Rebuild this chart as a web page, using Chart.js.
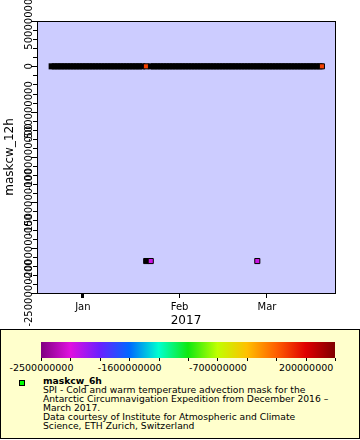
<!DOCTYPE html>
<html><head><meta charset="utf-8">
<script src="https://cdn.jsdelivr.net/npm/chart.js@4.4.1/dist/chart.umd.min.js"></script>
<style>
html,body{margin:0;padding:0;background:#fff;width:360px;height:440px;overflow:hidden;font-family:"DejaVu Sans",sans-serif;}
#wrap{position:absolute;left:0;top:0;width:360px;height:329px;}
#legend{position:absolute;left:0;top:329px;width:360px;height:110px;box-sizing:border-box;border:1px solid #000;background:#ffffcc;color:#000;}
#cbar{position:absolute;left:40px;top:12px;width:294px;height:16px;}
.ctick{position:absolute;top:28px;width:1px;height:3px;background:#000;}
.clab{position:absolute;top:32px;font-size:9.5px;line-height:11px;transform:translateX(-50%);white-space:nowrap;}
#mark{position:absolute;left:18px;top:50px;width:6px;height:6px;box-sizing:border-box;border:1px solid #000;background:#00ff00;}
#ltext{position:absolute;left:42px;top:47px;font-size:9.2px;line-height:8.9px;white-space:nowrap;}
#ltext b{font-weight:bold;}
</style>
</head><body>
<div id="wrap"><canvas id="c" width="360" height="329"></canvas></div>
<div id="legend">
  <div id="cbar"></div>
  <div id="mark"></div>
  <div id="ltext"><b>maskcw_6h</b><br>SPI - Cold and warm temperature advection mask for the<br>Antarctic Circumnavigation Expedition from December 2016 –<br>March 2017.<br>Data courtesy of Institute for Atmospheric and Climate<br>Science, ETH Zurich, Switzerland</div>
</div>
<script>
// ---- data (x = days since 2017-01-01) ----
const monthTicks = [0, 31, 59];
const monthLabels = ['Jan', 'Feb', 'Mar'];
const yTickLabels = [500000000, 0, -500000000, -1000000000, -1500000000, -2000000000, -2500000000];
const colorBarLabels = [-2500000000, -1600000000, -700000000, 200000000];

// maskcw_12h = 0 samples where maskcw_6h is missing (drawn black)
const bandDays = [-10, -9, -8, -7, -6, -5, -4, -3, -2, -1, 0, 1, 2, 3, 4, 5, 6, 7, 8, 9, 10,
  11, 12, 13, 14, 15, 16, 17, 18, 19, 21.8, 22.8, 23.8, 24.8, 25.8, 26.8, 27.8, 28.8, 29.8, 30.8,
  31.8, 32.8, 33.8, 34.8, 35.8, 36.8, 37.8, 38.8, 39.8, 40.8, 41.8, 42.8, 43.8, 44.8, 45.8,
  46.8, 47.8, 48.8, 49.8, 50.8, 51.8, 52.8, 53.8, 54.8, 55.8, 56.8, 57.8, 58.8, 59.8, 60.8,
  61.8, 62.8, 63.8, 64.8, 65.8, 66.8, 67.8, 68.8, 69.8, 70.8, 71.8, 72.8, 73.8, 74.8, 75.8];
const bandValues = [0, 0, 0, 0, 0, 0, 0, 0, 0, 0, 0, 0, 0, 0, 0, 0, 0, 0, 0, 0, 0,
  0, 0, 0, 0, 0, 0, 0, 0, 0, 0, 0, 0, 0, 0, 0, 0, 0, 0, 0,
  0, 0, 0, 0, 0, 0, 0, 0, 0, 0, 0, 0, 0, 0, 0,
  0, 0, 0, 0, 0, 0, 0, 0, 0, 0, 0, 0, 0, 0, 0,
  0, 0, 0, 0, 0, 0, 0, 0, 0, 0, 0, 0, 0, 0, 0];

// individually visible samples: day, maskcw_12h, maskcw_6h (null = missing)
const markDays = [20.2, 76.6, 20.3, 21.75, 55.9];
const markValues = [0, 0, -2147483647, -2147483647, -2147483647];
const markColorValues = [0, 0, null, -2147483647, -2147483647];

// ---- style ----
const cMin = -2500000000, cMax = 500000000;
const palette = ['#800080', '#e010e0', '#6a20ff', '#0068ff', '#00ffd0', '#10e810', '#c0ff00', '#ffc000', '#ff6000', '#e00000', '#800000'];
function hexToRgb(h) { return [parseInt(h.substr(1, 2), 16), parseInt(h.substr(3, 2), 16), parseInt(h.substr(5, 2), 16)]; }
function colorFor(v) {
  if (v === null) return '#000000';
  let t = (v - cMin) / (cMax - cMin) * (palette.length - 1);
  t = Math.max(0, Math.min(palette.length - 1, t));
  const i = Math.min(palette.length - 2, Math.floor(t)), f = t - i;
  const a = hexToRgb(palette[i]), b = hexToRgb(palette[i + 1]);
  return 'rgb(' + a.map((x, k) => Math.round(x + (b[k] - x) * f)).join(',') + ')';
}

// colour bar
(function () {
  const bar = document.getElementById('cbar');
  bar.style.background = 'linear-gradient(to right,' + palette.map((c, i) => c + ' ' + (i / (palette.length - 1) * 100) + '%').join(',') + ')';
  const leg = document.getElementById('legend');
  const nT = palette.length;
  for (let i = 0; i < nT; i++) {
    const d = document.createElement('div'); d.className = 'ctick';
    d.style.left = (40 + i * 294 / (nT - 1)) + 'px'; leg.appendChild(d);
  }
  colorBarLabels.forEach(v => {
    const d = document.createElement('div'); d.className = 'clab';
    d.style.left = (40.5 + (v - cMin) / (cMax - cMin) * 294) + 'px';
    d.textContent = String(v); leg.appendChild(d);
  });
})();

const bgPlugin = {
  id: 'bg',
  beforeDatasetsDraw(chart) {
    const { ctx, chartArea: a } = chart;
    ctx.save(); ctx.fillStyle = '#ccccff';
    ctx.fillRect(a.left, a.top, a.right - a.left, a.bottom - a.top);
    ctx.restore();
  },
  afterDraw(chart) {
    const { ctx, chartArea: a } = chart;
    const s = chart.scales.y;
    ctx.save();
    ctx.strokeStyle = '#000'; ctx.lineWidth = 1;
    ctx.strokeRect(a.left + 0.5, a.top + 0.5, a.right - a.left, a.bottom - a.top);
    s.ticks.forEach(t => {
      const y = Math.round(s.getPixelForValue(t.value)) + 0.5;
      const major = Math.abs(t.value % 500000000) < 1;
      const len = major ? 6 : 4;
      ctx.beginPath(); ctx.moveTo(a.left - len, y); ctx.lineTo(a.left, y); ctx.stroke();
    });
    ctx.fillStyle = '#000';
    ctx.font = '10px "DejaVu Sans"';
    ctx.textAlign = 'center'; ctx.textBaseline = 'middle';
    yTickLabels.forEach(v => {
      const y = s.getPixelForValue(v);
      ctx.save(); ctx.translate(29, y); ctx.rotate(-Math.PI / 2);
      ctx.fillText(String(v), 0, 0); ctx.restore();
    });
    ctx.restore();
  }
};

const pt = (d, v) => ({ x: d, y: v });
new Chart(document.getElementById('c'), {
  type: 'scatter',
  data: {
    datasets: [
      {
        label: 'marks',
        data: markDays.map((d, i) => pt(d, markValues[i])),
        pointStyle: 'rect', pointRadius: 3.6, borderWidth: 1, borderColor: '#000',
        backgroundColor: markColorValues.map(colorFor), order: 0
      },
      {
        label: 'band',
        data: bandDays.map((d, i) => pt(d, bandValues[i])),
        pointStyle: 'rect', pointRadius: 4.3, borderWidth: 0, borderColor: '#000',
        backgroundColor: '#000000', order: 1
      }
    ]
  },
  options: {
    responsive: false, animation: false, devicePixelRatio: 1,
    layout: { padding: { top: 21, right: 25, left: 0, bottom: 0 } },
    plugins: { legend: { display: false }, tooltip: { enabled: false } },
    scales: {
      x: {
        type: 'linear', min: -14.7, max: 80.8,
        afterBuildTicks: s => { s.ticks = monthTicks.map(v => ({ value: v })); },
        afterFit: s => { s.height = 36; },
        ticks: { color: '#000', font: { family: 'DejaVu Sans', size: 10 }, padding: 3, maxRotation: 0, autoSkip: false,
          callback: v => monthLabels[monthTicks.indexOf(v)] },
        grid: { drawOnChartArea: false, tickLength: 5, tickColor: '#000',
          tickWidth: c => (c.tick && c.tick.value === 0) ? 3 : 1 },
        border: { display: false },
        title: { display: true, text: '2017', color: '#000', font: { family: 'DejaVu Sans', size: 12 }, padding: { top: 0, bottom: 1 } }
      },
      y: {
        type: 'linear', min: -2500000000, max: 500000000,
        afterFit: s => { s.width = 37; },
        ticks: { display: false, stepSize: 100000000 },
        grid: { display: false },
        border: { display: false },
        title: { display: true, text: 'maskcw_12h', color: '#000', font: { family: 'DejaVu Sans', size: 12 }, padding: { top: 3, bottom: 0 } }
      }
    }
  },
  plugins: [bgPlugin]
});
</script>
</body></html>
